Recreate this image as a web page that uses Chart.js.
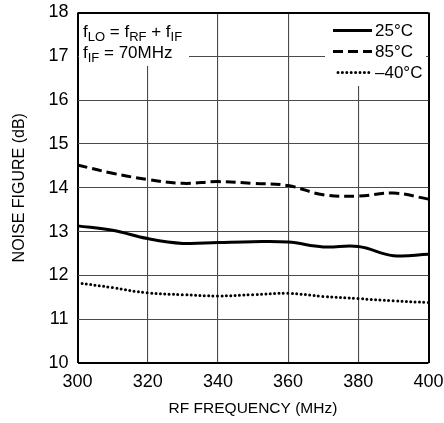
<!DOCTYPE html>
<html>
<head>
<meta charset="utf-8">
<script src="https://cdn.jsdelivr.net/npm/chart.js@4.4.1/dist/chart.umd.min.js"></script>
<style>
  html, body { margin: 0; padding: 0; background: #fff; }
  #wrap { width: 444px; height: 423px; }
</style>
</head>
<body>
<div id="wrap"><canvas id="nfChart"></canvas></div>
<script>
// Noise figure vs RF frequency, three temperatures
var FREQ   = [300, 310, 320, 330, 340, 350, 360, 370, 380, 390, 400];
var NF_25  = [13.13, 13.03, 12.84, 12.73, 12.75, 12.77, 12.76, 12.65, 12.66, 12.45, 12.48];
var NF_85  = [14.52, 14.33, 14.19, 14.10, 14.14, 14.10, 14.05, 13.84, 13.81, 13.88, 13.74];
var NF_M40 = [11.83, 11.72, 11.60, 11.56, 11.53, 11.56, 11.59, 11.52, 11.47, 11.42, 11.38];
var X_TICKS = [300, 320, 340, 360, 380, 400];
var Y_TICKS = [10, 11, 12, 13, 14, 15, 16, 17, 18];

var FONT = "'Liberation Sans', Arial, sans-serif";
Chart.defaults.font.family = FONT;
Chart.defaults.color = '#000';

function pts(ys) {
  return FREQ.map(function (f, i) { return { x: f, y: ys[i] }; });
}

var GRID = '#4a4a4a';

// white boxes with the condition text and the legend, drawn over the grid
var boxes = {
  id: 'boxes',
  beforeDatasetsDraw: function (chart) {
    var ctx = chart.ctx;
    var a = chart.chartArea;
    ctx.save();
    ctx.fillStyle = '#fff';
    ctx.fillRect(a.left + 1.5, a.top + 1.5, 110, 52);
    ctx.fillRect(325, a.top + 1.5, 101, 72);

    // f_LO = f_RF + f_IF / f_IF = 70MHz
    function run(parts, x, y) {
      parts.forEach(function (p) {
        ctx.font = (p[1] ? '13px ' : '17px ') + FONT;
        ctx.fillText(p[0], x, y + (p[1] ? 4 : 0));
        x += ctx.measureText(p[0]).width;
      });
    }
    ctx.fillStyle = '#000';
    ctx.textBaseline = 'alphabetic';
    ctx.textAlign = 'left';
    run([['f', 0], ['LO', 1], [' = f', 0], ['RF', 1], [' + f', 0], ['IF', 1]], 83, 36.5);
    run([['f', 0], ['IF', 1], [' = 70MHz', 0]], 83, 57.5);

    // legend
    var rows = [30.5, 51.5, 72.5];
    chart.data.datasets.forEach(function (ds, i) {
      var y = rows[i];
      ctx.beginPath();
      ctx.lineWidth = ds.borderWidth;
      ctx.setLineDash(ds.borderDash || []);
      ctx.lineCap = ds.borderCapStyle || 'butt';
      ctx.moveTo(i === 2 ? 338 : 333, y);
      ctx.lineTo(i === 2 ? 370 : 372, y);
      ctx.strokeStyle = '#000';
      ctx.stroke();
      ctx.setLineDash([]);
      ctx.font = '17px ' + FONT;
      ctx.textBaseline = 'middle';
      ctx.fillText(ds.label, 375, y + 0.5);
    });
    ctx.restore();
  }
};

function edgeColor(edges) {
  return function (c) { return edges.indexOf(c.tick.value) >= 0 ? '#000' : GRID; };
}
function edgeWidth(edges) {
  return function (c) { return edges.indexOf(c.tick.value) >= 0 ? 2 : 1.1; };
}

new Chart(document.getElementById('nfChart').getContext('2d'), {
  type: 'line',
  data: {
    datasets: [{
      label: '25°C',
      data: pts(NF_25),
      borderColor: '#000',
      borderWidth: 3,
      tension: 0.4,
      pointRadius: 0,
      fill: false
    }, {
      label: '85°C',
      data: pts(NF_85),
      borderColor: '#000',
      borderWidth: 3,
      borderDash: [10, 5],
      tension: 0.4,
      pointRadius: 0,
      fill: false
    }, {
      label: '–40°C',
      data: pts(NF_M40),
      borderColor: '#000',
      borderWidth: 3,
      borderDash: [0, 4.4],
      borderCapStyle: 'round',
      tension: 0.4,
      pointRadius: 0,
      fill: false
    }]
  },
  options: {
    responsive: true,
    maintainAspectRatio: false,
    animation: false,
    layout: { padding: { left: 0, right: 15.5, top: 12.5, bottom: 0 } },
    plugins: { legend: { display: false }, tooltip: { enabled: false } },
    scales: {
      x: {
        type: 'linear',
        min: 300, max: 400,
        afterBuildTicks: function (s) { s.ticks = X_TICKS.map(function (v) { return { value: v }; }); },
        afterFit: function (s) { s.height = 60; s.paddingLeft = 0; s.paddingRight = 0; },
        grid: { color: edgeColor([300, 400]), lineWidth: edgeWidth([300, 400]), drawTicks: false },
        border: { display: false },
        ticks: { font: { size: 18 }, padding: 8, color: '#000', maxRotation: 0 },
        title: { display: true, text: 'RF FREQUENCY (MHz)', font: { size: 15.5 }, color: '#000', padding: { top: 0, bottom: 5 } }
      },
      y: {
        min: 10, max: 18,
        afterBuildTicks: function (s) { s.ticks = Y_TICKS.map(function (v) { return { value: v }; }); },
        afterFit: function (s) { s.width = 77.5; s.paddingTop = 0; s.paddingBottom = 0; },
        grid: { color: edgeColor([10, 18]), lineWidth: edgeWidth([10, 18]), drawTicks: false },
        border: { display: false },
        ticks: { font: { size: 18 }, padding: 9, color: '#000' },
        title: { display: true, text: 'NOISE FIGURE (dB)', font: { size: 16 }, color: '#000', padding: { top: 10, bottom: 0 } }
      }
    }
  },
  plugins: [boxes]
});
</script>
</body>
</html>
